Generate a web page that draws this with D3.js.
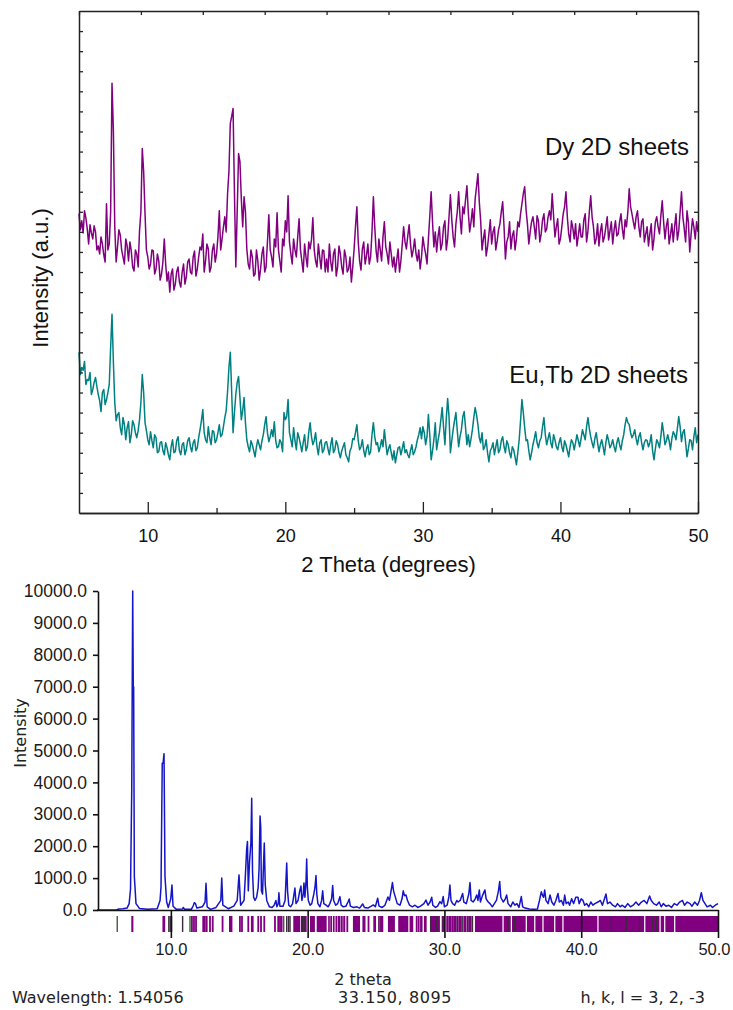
<!DOCTYPE html>
<html>
<head>
<meta charset="utf-8">
<script src="https://cdn.jsdelivr.net/npm/d3@7"></script>
<style>
  html, body { margin: 0; padding: 0; background: #fff; }
  svg { display: block; }
  .top-font { font-family: "Liberation Sans", Arial, sans-serif; }
  .bot-font { font-family: "DejaVu Sans", Verdana, sans-serif; }
</style>
</head>
<body>
<svg id="chart" width="733" height="1010"></svg>
<script>
  "use strict";

  // ---- Top panel: measured patterns (2 theta grid 5..50, step 0.1) ----
  const TOP_START = 5;
  const TOP_STEP = 0.1;

  const dyCounts = [
    298, 282, 291, 279, 301, 294, 283, 268, 287, 279, 273, 286, 280, 262, 266, 258, 275, 268, 257, 250,
    308, 262, 268, 300, 428, 380, 285, 250, 265, 282, 277, 262, 255, 248, 273, 266, 251, 270, 261, 245,
    241, 262, 258, 245, 281, 300, 363, 340, 298, 262, 255, 243, 248, 262, 261, 238, 243, 258, 251, 232,
    238, 250, 273, 248, 231, 240, 220, 238, 243, 222, 228, 240, 245, 230, 225, 240, 248, 228, 235, 250,
    253, 240, 238, 255, 261, 236, 243, 255, 265, 262, 278, 240, 251, 268, 263, 240, 245, 262, 268, 250,
    258, 275, 301, 262, 273, 285, 295, 280, 318, 340, 388, 395, 403, 320, 245, 300, 358, 350, 313, 285,
    315, 300, 263, 248, 243, 262, 255, 236, 238, 262, 251, 232, 243, 258, 265, 240, 245, 270, 297, 262,
    255, 245, 273, 265, 299, 262, 251, 240, 273, 266, 291, 280, 316, 270, 258, 248, 273, 262, 255, 275,
    293, 262, 251, 240, 268, 255, 245, 270, 263, 272, 294, 262, 251, 245, 268, 255, 243, 262, 261, 240,
    253, 240, 268, 250, 241, 258, 263, 236, 245, 266, 258, 245, 238, 262, 255, 240, 243, 255, 230, 245,
    263, 285, 305, 270, 251, 242, 263, 270, 248, 256, 268, 248, 255, 280, 315, 285, 261, 250, 273, 262,
    251, 275, 290, 265, 258, 248, 270, 258, 245, 255, 240, 252, 263, 240, 251, 268, 285, 270, 263, 276,
    287, 268, 255, 262, 273, 258, 251, 262, 243, 255, 275, 265, 258, 248, 273, 295, 320, 290, 265, 280,
    260, 275, 285, 262, 268, 285, 291, 262, 273, 295, 317, 292, 275, 265, 288, 300, 320, 295, 278, 305,
    298, 312, 326, 300, 280, 290, 303, 285, 313, 325, 338, 310, 291, 262, 273, 282, 256, 265, 278, 292,
    268, 280, 285, 262, 271, 282, 288, 300, 310, 285, 253, 270, 275, 290, 263, 276, 281, 262, 273, 290,
    285, 298, 308, 318, 325, 302, 288, 268, 280, 290, 295, 285, 273, 296, 291, 270, 278, 292, 298, 280,
    283, 295, 301, 292, 318, 296, 275, 285, 293, 268, 273, 285, 298, 305, 320, 295, 278, 270, 291, 284,
    273, 288, 266, 276, 288, 275, 275, 292, 298, 270, 281, 300, 316, 295, 285, 268, 273, 288, 266, 280,
    288, 270, 275, 285, 295, 272, 281, 290, 268, 282, 291, 276, 278, 290, 298, 283, 273, 292, 285, 300,
    323, 305, 298, 290, 283, 295, 301, 285, 275, 290, 293, 270, 278, 285, 266, 278, 288, 262, 273, 290,
    295, 285, 278, 296, 311, 290, 273, 286, 293, 268, 277, 288, 270, 285, 298, 272, 281, 300, 320, 295,
    283, 270, 301, 290, 260, 278, 293, 285, 273, 290, 280
  ];

  const euTbCounts = [
    160, 138, 145, 142, 151, 128, 133, 132, 140, 118, 123, 130, 135, 126, 118, 112, 101, 120, 123, 108,
    113, 120, 128, 165, 198, 150, 110, 92, 98, 100, 85, 78, 95, 88, 73, 85, 91, 70, 78, 92,
    88, 80, 75, 82, 93, 110, 138, 120, 90, 82, 73, 68, 81, 72, 65, 78, 75, 60, 61, 70,
    71, 62, 58, 70, 65, 58, 53, 66, 73, 60, 61, 72, 76, 62, 58, 68, 70, 58, 63, 72,
    75, 66, 61, 70, 73, 62, 65, 75, 83, 92, 103, 80, 73, 70, 86, 75, 68, 82, 81, 70,
    73, 80, 88, 76, 78, 86, 95, 102, 121, 145, 160, 120, 80, 100, 118, 130, 136, 115, 93, 102,
    115, 90, 73, 66, 61, 72, 68, 62, 56, 66, 73, 68, 63, 72, 78, 88, 96, 80, 71, 76,
    83, 76, 91, 72, 65, 66, 73, 70, 61, 100, 93, 96, 113, 80, 73, 66, 85, 72, 63, 80,
    75, 68, 61, 70, 78, 62, 66, 80, 90, 76, 68, 72, 80, 66, 58, 70, 73, 60, 63, 70,
    71, 64, 58, 68, 75, 60, 63, 72, 68, 60, 55, 62, 66, 70, 58, 55, 51, 62, 65, 74,
    73, 80, 88, 72, 63, 66, 73, 62, 56, 64, 68, 58, 61, 78, 90, 76, 68, 70, 61, 66,
    73, 66, 83, 70, 58, 64, 68, 60, 53, 62, 50, 58, 65, 66, 58, 64, 71, 60, 63, 58,
    55, 62, 68, 58, 61, 66, 73, 78, 85, 74, 86, 80, 68, 76, 98, 78, 53, 62, 73, 90,
    63, 72, 80, 92, 105, 86, 68, 94, 114, 96, 60, 72, 83, 92, 100, 82, 66, 76, 83, 96,
    101, 85, 68, 78, 66, 74, 83, 95, 105, 98, 88, 75, 70, 80, 63, 66, 73, 60, 51, 62,
    65, 70, 58, 66, 73, 60, 63, 72, 76, 66, 60, 72, 68, 60, 55, 66, 63, 56, 48, 60,
    73, 92, 113, 100, 85, 72, 73, 62, 53, 60, 68, 74, 81, 70, 65, 72, 75, 86, 95, 78,
    68, 74, 80, 70, 65, 78, 73, 66, 63, 70, 75, 66, 61, 72, 68, 62, 56, 66, 73, 70,
    63, 70, 78, 72, 66, 74, 83, 78, 73, 86, 95, 84, 76, 70, 65, 74, 80, 70, 61, 68,
    73, 66, 58, 70, 78, 72, 65, 68, 73, 66, 61, 70, 75, 68, 63, 72, 78, 88, 95, 90,
    88, 80, 75, 78, 83, 74, 68, 76, 80, 70, 63, 70, 73, 72, 66, 70, 78, 62, 53, 64,
    73, 70, 65, 76, 90, 80, 68, 72, 78, 72, 63, 74, 81, 78, 73, 84, 96, 86, 71, 80,
    83, 70, 56, 64, 73, 72, 63, 76, 85, 70, 78
  ];

  const topMajorTicks = [10, 20, 30, 40, 50];
  const topMinorTicks = [15, 25, 35, 45];

  // ---- Bottom panel: calculated pattern [2theta, intensity] ----
  const calcPattern = [
    [4.6, 0], [6.0, 0], [6.2, 30], [6.5, 40], [6.8, 60], [6.95, 200], [7.05, 650],
    [7.14, 3800], [7.21, 10000], [7.25, 7000], [7.28, 7000], [7.33, 1050], [7.45, 200],
    [7.7, 50], [8.3, 20], [9.0, 40], [9.21, 300], [9.28, 730], [9.37, 4600], [9.43, 4600],
    [9.5, 4900], [9.57, 1050], [9.69, 260], [9.81, 80], [9.99, 350], [10.08, 780],
    [10.16, 120], [10.4, 20], [10.85, 30], [10.91, 80], [11.0, 20], [11.5, 20],
    [11.65, 150], [11.71, 230], [11.8, 200], [11.9, 60], [12.3, 100], [12.5, 250],
    [12.57, 840], [12.65, 100], [12.9, 20], [13.3, 80], [13.65, 300], [13.72, 1000],
    [13.8, 150], [14.2, 40], [14.6, 120], [14.85, 300], [14.98, 1100], [15.1, 150],
    [15.35, 300], [15.45, 1100], [15.54, 1900], [15.6, 2150], [15.66, 600], [15.75, 1500],
    [15.85, 2100], [15.91, 3500], [15.97, 1200], [16.05, 400], [16.15, 300], [16.27, 400],
    [16.38, 700], [16.45, 1300], [16.52, 2950], [16.57, 2600], [16.62, 600], [16.7, 500],
    [16.78, 1500], [16.83, 2100], [16.9, 800], [17.01, 300], [17.2, 100], [17.4, 80],
    [17.55, 150], [17.68, 300], [17.75, 100], [17.85, 200], [17.9, 540], [17.97, 120],
    [18.2, 120], [18.35, 300], [18.47, 1470], [18.53, 600], [18.62, 150], [18.75, 100],
    [18.9, 200], [19.07, 690], [19.15, 200], [19.3, 300], [19.42, 600], [19.51, 750],
    [19.58, 300], [19.68, 500], [19.73, 850], [19.8, 400], [19.88, 900], [19.93, 1600],
    [19.98, 700], [20.05, 300], [20.18, 150], [20.3, 200], [20.45, 500], [20.53, 690],
    [20.61, 1080], [20.67, 500], [20.75, 200], [20.9, 100], [21.02, 300], [21.1, 600],
    [21.18, 200], [21.35, 150], [21.5, 100], [21.62, 200], [21.75, 350], [21.83, 770],
    [21.9, 300], [22.05, 150], [22.2, 200], [22.36, 420], [22.45, 150], [22.6, 100],
    [22.8, 120], [22.95, 250], [23.04, 345], [23.12, 120], [23.35, 80], [23.6, 100],
    [23.8, 60], [24.02, 190], [24.15, 80], [24.4, 60], [24.65, 120], [24.8, 160],
    [24.95, 100], [25.12, 370], [25.22, 120], [25.45, 80], [25.65, 150], [25.87, 410],
    [25.98, 300], [26.1, 600], [26.2, 860], [26.28, 600], [26.38, 450], [26.55, 200],
    [26.75, 150], [26.9, 350], [26.99, 600], [27.08, 450], [27.19, 470], [27.3, 300],
    [27.45, 150], [27.65, 100], [27.85, 150], [28.05, 80], [28.25, 120], [28.5, 200],
    [28.65, 310], [28.8, 150], [28.95, 250], [29.07, 400], [29.15, 150], [29.35, 80],
    [29.5, 120], [29.67, 260], [29.8, 200], [29.91, 420], [30.0, 100], [30.2, 150],
    [30.32, 400], [30.4, 780], [30.48, 300], [30.6, 200], [30.75, 150], [30.9, 300],
    [31.0, 250], [31.15, 300], [31.33, 520], [31.42, 250], [31.6, 200], [31.78, 500],
    [31.87, 860], [31.95, 300], [32.1, 250], [32.25, 350], [32.36, 470], [32.45, 300],
    [32.55, 630], [32.63, 250], [32.78, 450], [32.96, 630], [33.05, 350], [33.2, 250],
    [33.33, 200], [33.5, 100], [33.65, 200], [33.8, 300], [33.95, 600], [34.04, 890],
    [34.12, 400], [34.3, 250], [34.45, 350], [34.55, 470], [34.65, 200], [34.85, 100],
    [35.0, 250], [35.15, 150], [35.3, 200], [35.45, 80], [35.62, 420], [35.72, 100],
    [35.9, 60], [36.2, 30], [36.5, 20], [36.8, 30], [36.95, 300], [37.08, 570],
    [37.18, 450], [37.25, 400], [37.33, 630], [37.42, 300], [37.58, 200], [37.72, 470],
    [37.85, 250], [38.0, 150], [38.15, 300], [38.3, 520], [38.4, 250], [38.55, 300],
    [38.7, 150], [38.79, 470], [38.9, 200], [39.05, 250], [39.15, 150], [39.3, 350],
    [39.45, 200], [39.6, 400], [39.76, 400], [39.85, 200], [40.0, 350], [40.13, 300],
    [40.25, 150], [40.4, 200], [40.55, 100], [40.7, 250], [40.85, 150], [41.0, 200],
    [41.22, 250], [41.4, 300], [41.55, 150], [41.81, 500], [41.92, 200], [42.1, 250],
    [42.3, 150], [42.5, 100], [42.65, 200], [42.85, 100], [43.0, 150], [43.2, 80],
    [43.4, 200], [43.6, 100], [43.8, 150], [44.0, 250], [44.2, 150], [44.4, 250],
    [44.6, 300], [44.8, 200], [45.0, 440], [45.12, 300], [45.3, 200], [45.5, 150],
    [45.7, 250], [45.85, 100], [46.0, 200], [46.2, 120], [46.4, 150], [46.6, 80],
    [46.8, 200], [47.0, 150], [47.2, 250], [47.4, 300], [47.55, 150], [47.75, 250],
    [47.95, 200], [48.1, 120], [48.3, 250], [48.5, 150], [48.65, 300], [48.78, 540],
    [48.9, 300], [49.05, 200], [49.2, 100], [49.45, 150], [49.6, 80], [49.8, 150],
    [50.0, 200]
  ];

  // Reflection markers (hkl positions) under the calculated pattern.
  const reflectionLines = [
    7.18, 9.45, 9.52, 11.54, 11.69, 11.84, 12.62, 12.86, 13.06, 13.78, 15.05, 15.2,
    15.66, 16.39, 16.59, 16.83, 17.61, 17.85, 17.98, 18.1, 21.72, 22.1, 22.5, 22.9,
    24.07, 24.45, 27.97, 28.12, 30.2, 30.4, 30.6, 30.8
  ];
  const reflectionBands = [
    [7.14, 7.22], [12.3, 12.55], [14.25, 14.5], [15.85, 16.05], [18.95, 19.45],
    [19.5, 19.93], [20.17, 20.53], [20.66, 21.39], [21.5, 21.62], [21.85, 21.97],
    [22.2, 22.4], [22.6, 22.75], [23.31, 23.83], [24.12, 24.22], [24.8, 25.0],
    [25.15, 25.53], [25.87, 26.38], [26.62, 27.36], [27.45, 27.72], [28.22, 28.4],
    [28.5, 28.7], [28.94, 29.67], [29.8, 30.04], [30.28, 30.53], [30.65, 30.89],
    [31.01, 31.26], [31.38, 31.62], [31.74, 31.99], [32.23, 34.24], [34.33, 34.85],
    [34.94, 35.94], [36.03, 36.56], [36.65, 37.16], [37.25, 38.02], [38.11, 38.62],
    [38.71, 41.18], [41.27, 44.6], [44.69, 45.72], [45.81, 46.06], [46.15, 46.79],
    [46.88, 50.0]
  ];
  const darkReflections = [
    9.85, 9.95, 10.05, 10.86, 18.47, 18.6, 18.71, 19.6, 19.8, 29.0, 29.4, 29.9,
    30.95, 31.3, 31.7, 32.05, 34.64, 35.13, 42.2, 43.29, 44.27, 45.24, 45.49
  ];
  const greenReflections = [6.08, 11.4, 18.25, 25.25];

  const botXTicks = [10, 20, 30, 40, 50];
  const botYTicks = d3.range(0, 10001, 1000);

  (function () {
    const svg = d3.select("#chart");

    // =================== Top panel ===================
    const TL = 79, TR = 698, TT = 11, TB = 513;
    const xT = d3.scaleLinear().domain([5, 50]).range([TL, TR]);
    const yT = d3.scaleLinear().domain([0, 500]).range([TB, TT]);
    const grid = d3.range(dyCounts.length).map((i) => TOP_START + i * TOP_STEP);

    const topG = svg.append("g").attr("class", "top-font");

    const line = d3
      .line()
      .x((d) => xT(d[0]))
      .y((d) => yT(d[1]));

    topG.append("path")
      .datum(grid.map((t, i) => [t, euTbCounts[i]]))
      .attr("fill", "none")
      .attr("stroke", "#008080")
      .attr("stroke-width", 1.5)
      .attr("stroke-linejoin", "round")
      .attr("d", line);

    topG.append("path")
      .datum(grid.map((t, i) => [t, dyCounts[i]]))
      .attr("fill", "none")
      .attr("stroke", "#800080")
      .attr("stroke-width", 1.5)
      .attr("stroke-linejoin", "round")
      .attr("d", line);

    function styleAxis(g) {
      g.select(".domain").attr("stroke", "#222").attr("stroke-width", 1.5);
      g.selectAll(".tick line").attr("stroke", "#222").attr("stroke-width", 1.3);
    }

    // bottom axis: major labelled + minor
    topG.append("g")
      .attr("transform", `translate(0,${TB})`)
      .call(d3.axisBottom(xT).tickValues(topMajorTicks).tickSizeInner(-11).tickSizeOuter(0).tickPadding(16))
      .call(styleAxis)
      .call((g) => g.selectAll("text").attr("font-size", 18).attr("fill", "#111").attr("font-family", null));
    topG.append("g")
      .attr("transform", `translate(0,${TB})`)
      .call(d3.axisBottom(xT).tickValues(topMinorTicks).tickSizeInner(-5).tickSizeOuter(0).tickFormat(""))
      .call(styleAxis);

    topG.append("g")
      .attr("transform", `translate(0,${TT})`)
      .call(d3.axisTop(xT).tickValues(d3.range(5, 50.01, 4.5)).tickSizeInner(-4).tickSizeOuter(0).tickFormat(""))
      .call(styleAxis);

    topG.append("g")
      .attr("transform", `translate(${TL},0)`)
      .call(d3.axisLeft(yT).tickValues(d3.range(20, 500, 20)).tickSizeInner(-4).tickSizeOuter(0).tickFormat(""))
      .call(styleAxis);

    topG.append("g")
      .attr("transform", `translate(${TR},0)`)
      .call(d3.axisRight(yT).tickValues(d3.range(50, 500, 50)).tickSizeInner(-4).tickSizeOuter(0).tickFormat(""))
      .call(styleAxis);

    topG.append("text")
      .attr("x", (TL + TR) / 2)
      .attr("y", 572)
      .attr("text-anchor", "middle")
      .attr("font-size", 22)
      .attr("fill", "#111")
      .text("2 Theta (degrees)");

    topG.append("text")
      .attr("transform", "translate(48,278) rotate(-90)")
      .attr("text-anchor", "middle")
      .attr("font-size", 22)
      .attr("fill", "#111")
      .text("Intensity (a.u.)");

    topG.append("text")
      .attr("x", 689).attr("y", 155)
      .attr("text-anchor", "end")
      .attr("font-size", 24)
      .attr("fill", "#111")
      .text("Dy 2D sheets");

    topG.append("text")
      .attr("x", 688).attr("y", 383)
      .attr("text-anchor", "end")
      .attr("font-size", 24)
      .attr("fill", "#111")
      .text("Eu,Tb 2D sheets");

    // =================== Bottom panel ===================
    const BL = 98, BR = 718, BT = 591, BB = 910;
    const xB = d3.scaleLinear().domain([4.6, 50]).range([BL - 1, BR]);
    const yB = d3.scaleLinear().domain([0, 10000]).range([BB, BT]);
    const MARK_Y0 = 916, MARK_Y1 = 932;

    const botG = svg.append("g").attr("class", "bot-font");

    const marks = botG.append("g");
    marks.selectAll("rect.band")
      .data(reflectionBands)
      .join("rect")
      .attr("class", "band")
      .attr("x", (d) => xB(d[0]))
      .attr("width", (d) => Math.max(1.5, xB(d[1]) - xB(d[0])))
      .attr("y", MARK_Y0)
      .attr("height", MARK_Y1 - MARK_Y0)
      .attr("fill", "#800080");

    function drawLines(data, color, w) {
      marks.append("g")
        .selectAll("rect")
        .data(data)
        .join("rect")
        .attr("x", (d) => xB(d) - w / 2)
        .attr("width", w)
        .attr("y", MARK_Y0)
        .attr("height", MARK_Y1 - MARK_Y0)
        .attr("fill", color);
    }
    drawLines(reflectionLines, "#800080", 1.8);
    drawLines(darkReflections, "#3a2a3a", 1.4);
    drawLines(greenReflections, "#3f5f3f", 1.4);

    botG.append("path")
      .datum(calcPattern)
      .attr("fill", "none")
      .attr("stroke", "#1414c8")
      .attr("stroke-width", 1.5)
      .attr("stroke-linejoin", "round")
      .attr(
        "d",
        d3.line()
          .x((d) => xB(d[0]))
          .y((d) => yB(d[1]))
      );

    botG.append("g")
      .attr("transform", `translate(0,${BB})`)
      .call(
        d3.axisBottom(xB)
          .tickValues(botXTicks)
          .tickFormat(d3.format(".1f"))
          .tickSizeInner(28)
          .tickSizeOuter(0)
          .tickPadding(5)
      )
      .call((g) => g.select(".domain").attr("stroke", "#111").attr("stroke-width", 1.6))
      .call((g) => g.selectAll(".tick line").attr("stroke", "#111").attr("stroke-width", 1.6))
      .call((g) => g.selectAll("text").attr("font-size", 16.5).attr("fill", "#1a1a1a").attr("font-family", null))
      // keep the last label inside the page, as the reference does
      .call((g) => g.selectAll(".tick").filter((d) => d === 50).select("text").attr("text-anchor", "end").attr("x", 12));

    botG.append("g")
      .attr("transform", `translate(${BL},0)`)
      .call(
        d3.axisLeft(yB)
          .tickValues(botYTicks)
          .tickFormat(d3.format(".1f"))
          .tickSizeInner(5)
          .tickSizeOuter(0)
          .tickPadding(6)
      )
      .call((g) => g.select(".domain").attr("stroke", "#111").attr("stroke-width", 1.6))
      .call((g) => g.selectAll(".tick line").attr("stroke", "#111").attr("stroke-width", 1.6))
      .call((g) => g.selectAll("text").attr("font-size", 17.5).attr("fill", "#1a1a1a").attr("font-family", null));

    botG.append("text")
      .attr("transform", "translate(26,733) rotate(-90)")
      .attr("text-anchor", "middle")
      .attr("font-size", 16)
      .attr("fill", "#222")
      .text("Intensity");

    botG.append("text")
      .attr("x", 363).attr("y", 985)
      .attr("text-anchor", "middle")
      .attr("font-size", 16)
      .attr("fill", "#222")
      .text("2 theta");

    botG.append("text")
      .attr("x", 12).attr("y", 1003)
      .attr("font-size", 16)
      .attr("fill", "#222")
      .text("Wavelength: 1.54056");

    botG.append("text")
      .attr("x", 395).attr("y", 1003)
      .attr("text-anchor", "middle")
      .attr("font-size", 16)
      .attr("fill", "#222")
      .attr("letter-spacing", 0.6)
      .text("33.150, 8095");

    botG.append("text")
      .attr("x", 705).attr("y", 1003)
      .attr("text-anchor", "end")
      .attr("font-size", 16)
      .attr("fill", "#222")
      .text("h, k, l = 3, 2, -3");
  })();
</script>
</body>
</html>
